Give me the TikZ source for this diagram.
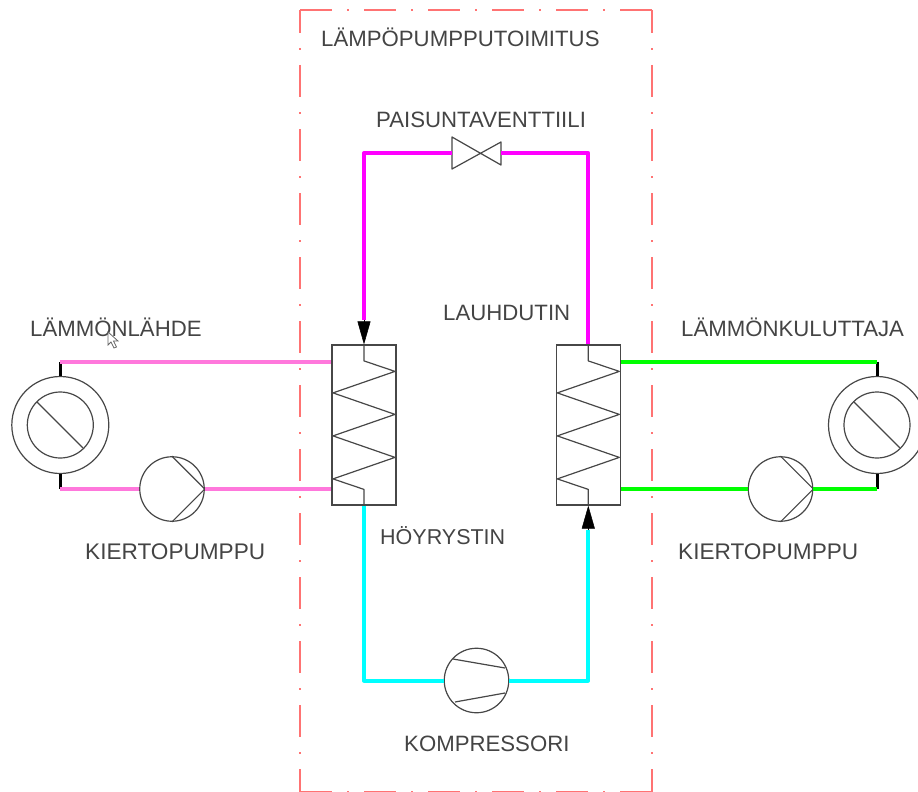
\documentclass[tikz,border=0pt]{standalone}
\usepackage{fontspec}
\setmainfont{Liberation Sans}
\usetikzlibrary{arrows.meta}
\definecolor{framered}{HTML}{FF7373}
\definecolor{srcpink}{HTML}{FF78DC}
\definecolor{labelgray}{HTML}{444444}
\definecolor{hotpipe}{RGB}{255,0,255}
\definecolor{coldpipe}{RGB}{0,255,255}
\definecolor{loadpipe}{RGB}{0,255,0}
\tikzset{
    device/.style={draw=black!72, line width=1.2pt, inner sep=0pt},
    pumpc/.style={device, circle, minimum size=64.5pt},
    ringc/.style={device, circle, minimum size=97pt},
    hexch/.style={device, rectangle, minimum width=64pt, minimum height=160pt},
    detail/.style={draw=black!72, line width=1.2pt, line join=round},
    pipe/.style={line width=4pt, line join=round},
    stub/.style={line width=3pt, black},
    border/.style={framered, line width=1.6pt, dash pattern=on 32pt off 15pt on 2pt off 15pt},
    flowtip/.style={black, line width=0.5pt, -{Triangle[length=23pt,width=13pt]}},
    label/.style={inner sep=0pt, anchor=base west, text=labelgray, font=\fontsize{22.2}{24}\selectfont}
}
\begin{document}
\begin{tikzpicture}[x=1pt, y=-1pt]
\useasboundingbox (0,0) rectangle (918,792);

% Delivery boundary
\draw[border] (300,10) -- (652,10);
\draw[border, dash phase=9pt] (300,10) -- (300,792);
\draw[border, dash phase=9pt] (652,10) -- (652,792);
\draw[border] (300,792) -- (652,792);

% Heat exchangers
\node[hexch] (evap) at (364,425) {};
\node[hexch] (cond) at (588.3,425) {};
\draw[detail] (evap.north) -- ++(0,16.5) -- ++(31,10.5) -- ++(-62,21.5) -- ++(62,21.5) -- ++(-62,21.5) -- ++(62,21.5) -- ++(-62,21.5) -- ++(31,10.5) -- (evap.south);
\draw[detail] (cond.north) -- ++(0,16.5) -- ++(31,10.5) -- ++(-62,21.5) -- ++(62,21.5) -- ++(-62,21.5) -- ++(62,21.5) -- ++(-62,21.5) -- ++(31,10.5) -- (cond.south);

% Source and consumer
\node[ringc] (src) at (60.3,425) {};
\node[device, circle, minimum size=66pt] (srcin) at (60.3,425) {};
\draw[detail] (37,402) -- (83,448);
\node[ringc] (load) at (877,425) {};
\node[device, circle, minimum size=66pt] (loadin) at (877,425) {};
\draw[detail] (854,402) -- (900,448);

% Circulation pumps
\node[pumpc] (pumpl) at (172,489) {};
\draw[detail] (pumpl.north) -- (pumpl.east) -- (pumpl.south);
\node[pumpc] (pumpr) at (780.5,489) {};
\draw[detail] (pumpr.north) -- (pumpr.east) -- (pumpr.south);

% Compressor
\node[pumpc] (comp) at (476.5,680.5) {};
\draw[detail] (453,659) -- (505,668);
\draw[detail] (455,702) -- (505,693);

% Expansion valve
\coordinate (valvel) at (452,153);
\coordinate (valver) at (501,153);
\draw[detail] (452,137) -- (501,165) -- (501,142) -- (452,169) -- cycle;

% Free corners
\coordinate (srctop) at (60.3,361.5);
\coordinate (srcbot) at (60.3,489);
\coordinate (loadtop) at (877,361.5);
\coordinate (loadbot) at (877,489);
\coordinate (tipin) at (364,320);
\coordinate (tipout) at (588.3,530);

% Stubs
\draw[stub] (srctop) -- (src.north);
\draw[stub] (srcbot) -- (src.south);
\draw[stub] (loadtop) -- (load.north);
\draw[stub] (loadbot) -- (load.south);

% Pipes
\draw[pipe, srcpink] (srctop) -- (srctop -| evap.west);
\draw[pipe, srcpink] (srcbot) -- (pumpl.west);
\draw[pipe, srcpink] (pumpl.east) -- (pumpl.east -| evap.west);
\draw[pipe, loadpipe] (cond.east |- loadtop) -- (loadtop);
\draw[pipe, loadpipe] (cond.east |- loadbot) -- (pumpr.west);
\draw[pipe, loadpipe] (pumpr.east) -- (loadbot);
\draw[pipe, hotpipe] (cond.north) |- (valver);
\draw[pipe, hotpipe] (valvel) -| (tipin);
\draw[pipe, coldpipe] (evap.south) |- (comp.west);
\draw[pipe, coldpipe] (comp.east) -| (tipout);

% Flow arrows
\draw[flowtip] (tipin) -- (evap.north);
\draw[flowtip] (tipout) -- (cond.south);

% Labels
\node[label] (title) at (321,47) {LÄMPÖPUMPPUTOIMITUS};
\node[label] (valvetxt) at (376,127) {PAISUNTAVENTTIILI};
\node[label] (srctxt) at (30,336) {LÄMMÖNLÄHDE};
\node[label] (condtxt) at (443,320) {LAUHDUTIN};
\node[label] (loadtxt) at (681,336) {LÄMMÖNKULUTTAJA};
\node[label, font=\fontsize{21.5}{24}\selectfont] (evaptxt) at (380,544) {HÖYRYSTIN};
\node[label, font=\fontsize{22.6}{24}\selectfont] (pumpltxt) at (85,559) {KIERTOPUMPPU};
\node[label, font=\fontsize{22.6}{24}\selectfont] (pumprtxt) at (678,559) {KIERTOPUMPPU};
\node[label] (comptxt) at (404,751) {KOMPRESSORI};

% Mouse pointer
\draw[fill=white, draw=black!60, line width=0.8pt] (108,332) -- (108,345) -- (111,342) -- (114,348) -- (116.5,347) -- (113.5,341) -- (118,341) -- cycle;
\end{tikzpicture}
\end{document}
